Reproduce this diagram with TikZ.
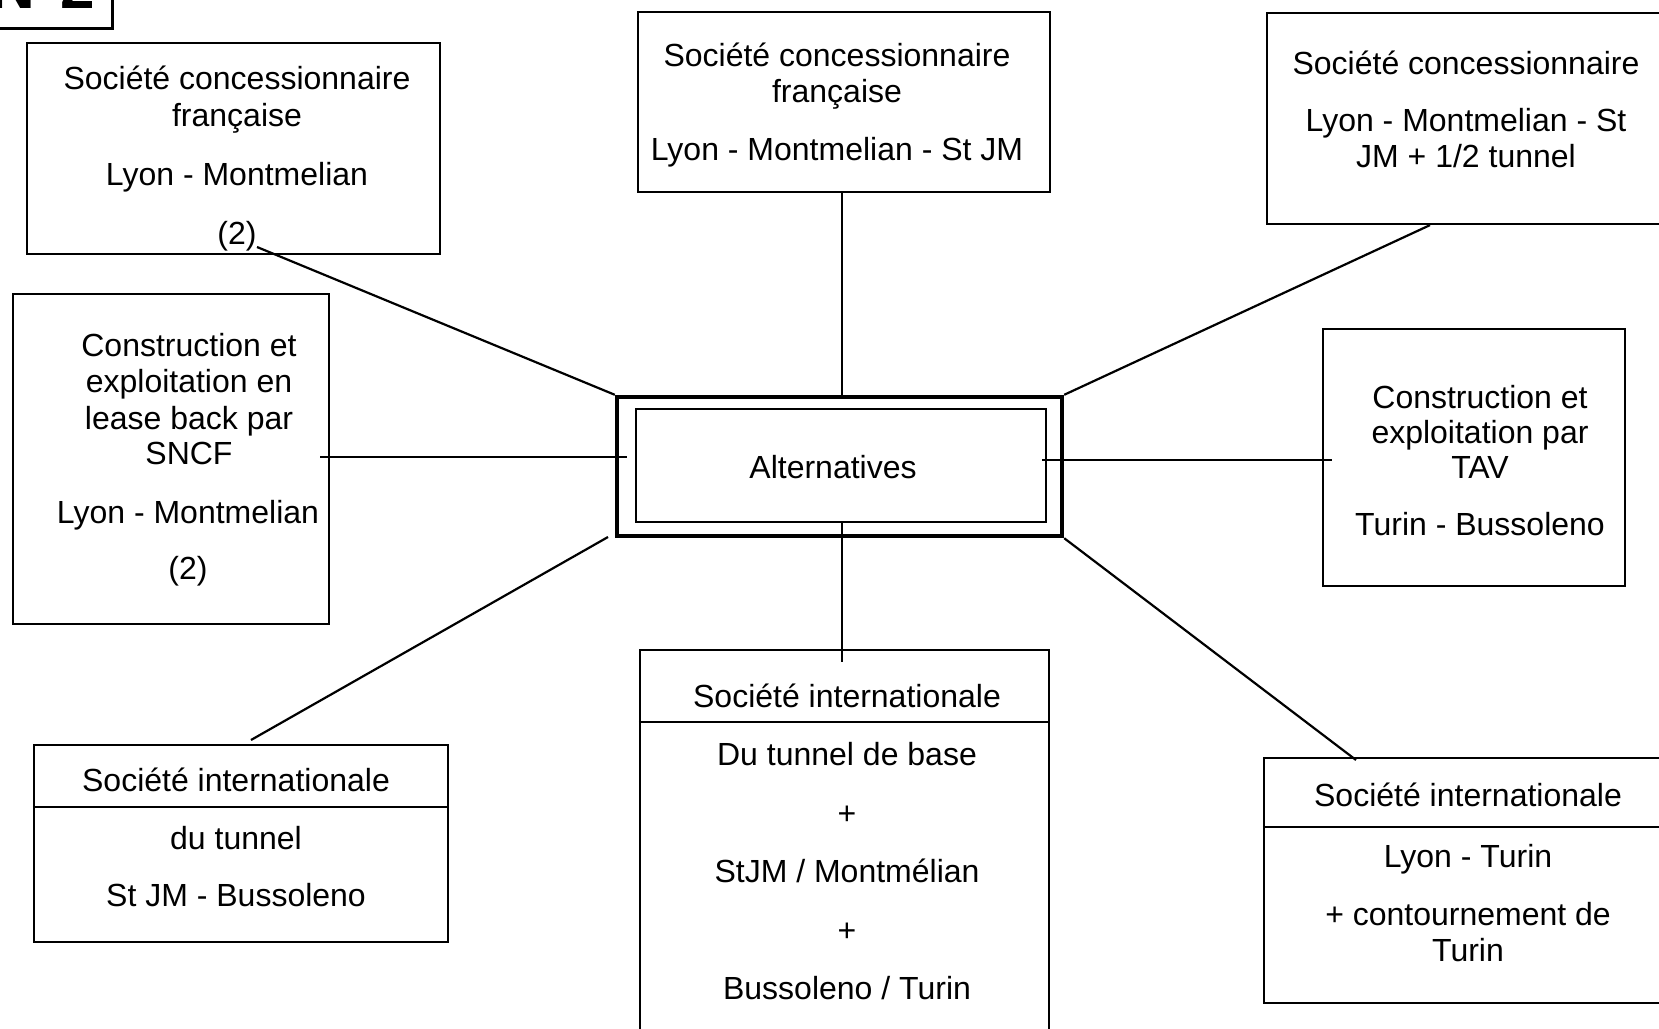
\documentclass[tikz,border=0pt]{standalone}
\usepackage{fontspec}
\setmainfont{Liberation Sans}
\usetikzlibrary{fit}
\begin{document}
\begin{tikzpicture}[x=0.5pt,y=-0.5pt,
  box/.style={draw, line width=1.1pt, rectangle, inner sep=0pt},
  txt/.style={anchor=base, inner sep=0pt, font=\fontsize{16pt}{18pt}\selectfont},
  conn/.style={line width=1.1pt}]
\useasboundingbox (0,0) rectangle (1659,1028);
\clip (0,0) rectangle (1659,1028);

% title box (cut off)
\node[box, line width=1.5pt, fit={(-20,-80) (112,28)}] (title) {};
\node[anchor=base east, inner sep=0pt, font=\fontsize{31pt}{31pt}\selectfont\bfseries] (titletxt) at (95,9) {N°2};

% boxes
\node[box, fit={(27,43) (440,254)}] (tl) {};
\node[box, fit={(638,12) (1050,192)}] (tc) {};
\node[box, fit={(1267,13) (1700,224)}] (tr) {};
\node[box, fit={(13,294) (329,624)}] (lm) {};
\node[box, fit={(1323,329) (1625,586)}] (rm) {};
\node[box, line width=2.2pt, fit={(617,397) (1062,536)}] (outer) {};
\node[box, fit={(636,409) (1046,522)}] (inner) {};
\node[box, fit={(34,745) (448,942)}] (bl) {};
\node[box, fit={(640,650) (1049,1100)}] (bc) {};
\node[box, fit={(1264,758) (1700,1003)}] (br) {};

% dividers
\coordinate (bldiv) at (0,807);
\coordinate (bcdiv) at (0,722);
\coordinate (brdiv) at (0,827);
\draw[conn] (bl.west |- bldiv) -- (bl.east |- bldiv);
\draw[conn] (bc.west |- bcdiv) -- (bc.east |- bcdiv);
\draw[conn] (br.west |- brdiv) -- (br.east |- brdiv);

% texts: top-left
\node[txt] (tl1) at (237,89) {Société concessionnaire};
\node[txt] (tl2) at (237,126) {française};
\node[txt] (tl3) at (237,185) {Lyon - Montmelian};
\node[txt] (tl4) at (237,244) {(2)};
% top-center
\node[txt] (tc1) at (837,66) {Société concessionnaire};
\node[txt] (tc2) at (837,102) {française};
\node[txt] (tc3) at (837,160) {Lyon - Montmelian - St JM};
% top-right
\node[txt] (tr1) at (1466,74) {Société concessionnaire};
\node[txt] (tr2) at (1466,131) {Lyon - Montmelian - St};
\node[txt] (tr3) at (1466,167) {JM + 1/2 tunnel};
% left-middle
\node[txt] (lm1) at (189,356) {Construction et};
\node[txt] (lm2) at (189,392) {exploitation en};
\node[txt] (lm3) at (189,429) {lease back par};
\node[txt] (lm4) at (189,464) {SNCF};
\node[txt] (lm5) at (188,523) {Lyon - Montmelian};
\node[txt] (lm6) at (188,579) {(2)};
% center
\node[txt] (alt) at (833,478) {Alternatives};
% right-middle
\node[txt] (rm1) at (1480,408) {Construction et};
\node[txt] (rm2) at (1480,443) {exploitation par};
\node[txt] (rm3) at (1480,478) {TAV};
\node[txt] (rm4) at (1480,535) {Turin - Bussoleno};
% bottom-left
\node[txt] (bl1) at (236,791) {Société internationale};
\node[txt] (bl2) at (236,849) {du tunnel};
\node[txt] (bl3) at (236,906) {St JM - Bussoleno};
% bottom-center
\node[txt] (bc1) at (847,707) {Société internationale};
\node[txt] (bc2) at (847,765) {Du tunnel de base};
\node[txt] (bc3) at (847,824) {+};
\node[txt] (bc4) at (847,882) {StJM / Montmélian};
\node[txt] (bc5) at (847,941) {+};
\node[txt] (bc6) at (847,999) {Bussoleno / Turin};
% bottom-right
\node[txt] (br1) at (1468,806) {Société internationale};
\node[txt] (br2) at (1468,867) {Lyon - Turin};
\node[txt] (br3) at (1468,925) {+ contournement de};
\node[txt] (br4) at (1468,961) {Turin};

% connector end points
\coordinate (p1) at (257,247);
\coordinate (v1) at (842,0);
\coordinate (p3) at (1430,0);
\coordinate (h1a) at (320,457);
\coordinate (h1b) at (627,457);
\coordinate (h2a) at (1042,460);
\coordinate (h2b) at (1332,460);
\coordinate (p6) at (842,662);
\coordinate (p7a) at (608,537);
\coordinate (p7b) at (251,740);
\coordinate (p8) at (1356,760);

% connectors
\draw[conn] (p1) -- (outer.north west);
\draw[conn] (tc.south -| v1) -- (outer.north -| v1);
\draw[conn] (tr.south -| p3) -- (outer.north east);
\draw[conn] (h1a) -- (h1b);
\draw[conn] (h2a) -- (h2b);
\draw[conn] (inner.south -| v1) -- (p6);
\draw[conn] (p7a) -- (p7b);
\draw[conn] (outer.south east) -- (p8);
\end{tikzpicture}
\end{document}
